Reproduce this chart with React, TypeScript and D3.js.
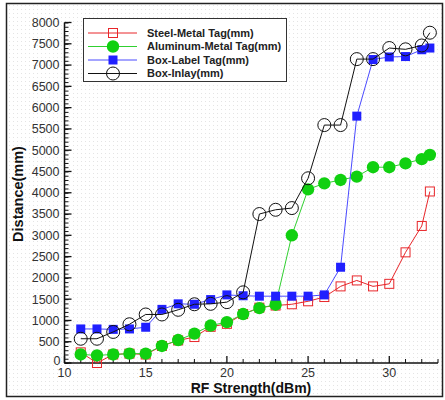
import React, { useEffect, useRef } from 'react'
import * as d3 from 'd3'

// RF strength steps (dBm)
const rfStrength = [11, 12, 13, 14, 15, 16, 17, 18, 19, 20, 21, 22, 23, 24, 25, 26, 27, 28, 29, 30, 31, 32, 32.5]

const steelMetal = [250, 0, 200, 220, 200, 400, 530, 610, 850, 920, 1150, 1300, 1350, 1380, 1450, 1550, 1800, 1940, 1800, 1860, 2600, 3220, 4030]
const aluminumMetal = [200, 180, 200, 220, 220, 400, 540, 690, 880, 960, 1150, 1290, 1370, 3000, 4080, 4220, 4300, 4380, 4600, 4600, 4690, 4790, 4890]
const boxLabel = [800, 800, 790, 800, 840, 1260, 1390, 1380, 1490, 1600, 1580, 1570, 1570, 1570, 1570, 1600, 2250, 5800, 7130, 7190, 7200, 7360, 7400]
const boxInlay = [570, 570, 730, 910, 1140, 1140, 1250, 1380, 1390, 1430, 1660, 3500, 3600, 3640, 4340, 5590, 5590, 7140, 7140, 7400, 7370, 7460, 7760]

const seriesNames = ['Steel-Metal Tag(mm)', 'Aluminum-Metal Tag(mm)', 'Box-Label Tag(mm)', 'Box-Inlay(mm)']
const yTicks = [0, 500, 1000, 1500, 2000, 2500, 3000, 3500, 4000, 4500, 5000, 5500, 6000, 6500, 7000, 7500, 8000]
const xTicks = [10, 15, 20, 25, 30]

const font = "'Liberation Sans', Arial, sans-serif"

const App = () => {
  const svgRef = useRef(null)

  useEffect(() => {
    const width = 445
    const height = 400
    const margin = { top: 22.5, right: 7, bottom: 37, left: 64.5 }
    const svg = d3.select(svgRef.current)
    svg.selectAll('*').remove()
    svg.attr('width', width).attr('height', height)

    // dotted background of the frame
    const defs = svg.append('defs')
    const pat = defs
      .append('pattern')
      .attr('id', 'dots')
      .attr('width', 4)
      .attr('height', 4)
      .attr('patternUnits', 'userSpaceOnUse')
    pat.append('rect').attr('width', 4).attr('height', 4).attr('fill', '#ffffff')
    pat.append('rect').attr('x', 1).attr('y', 1).attr('width', 1).attr('height', 1).attr('fill', '#e4e4e4')

    svg
      .append('rect')
      .attr('x', 6.5)
      .attr('y', 3.5)
      .attr('width', 436)
      .attr('height', 393)
      .attr('fill', 'url(#dots)')
      .attr('stroke', '#222')
      .attr('stroke-width', 1.5)

    const x = d3.scaleLinear().domain([10, 33]).range([margin.left, width - margin.right])
    const y = d3.scaleLinear().domain([0, 8000]).range([height - margin.bottom, margin.top])

    // y axis, ticks drawn inward
    const yAxis = svg.append('g').attr('transform', `translate(${margin.left},0)`)
    yAxis
      .call(d3.axisRight(y).tickValues(d3.range(0, 8001, 100)).tickSize(4).tickFormat(() => ''))
      .call((g) => g.select('.domain').remove())
    yAxis.selectAll('line').attr('stroke', '#111').attr('stroke-width', 1)
    yAxis
      .append('line')
      .attr('y1', y(0))
      .attr('y2', y(8000))
      .attr('stroke', '#111')
      .attr('stroke-width', 1.5)
    yAxis
      .selectAll('.major')
      .data(yTicks)
      .join('line')
      .attr('class', 'major')
      .attr('x1', 0)
      .attr('x2', 7)
      .attr('y1', (d) => y(d))
      .attr('y2', (d) => y(d))
      .attr('stroke', '#111')
      .attr('stroke-width', 1.3)
    yAxis
      .selectAll('.lbl')
      .data(yTicks)
      .join('text')
      .attr('class', 'lbl')
      .attr('x', (d) => (d === 0 ? -4 : -5))
      .attr('y', (d) => (d === 0 ? y(d) - 2 : y(d)))
      .attr('dy', '0.35em')
      .attr('text-anchor', 'end')
      .attr('font-family', font)
      .attr('font-size', 12.5)
      .attr('fill', '#333')
      .text((d) => d)

    // x axis
    const xAxis = svg.append('g').attr('transform', `translate(0,${y(0)})`)
    xAxis
      .append('line')
      .attr('x1', x(10))
      .attr('x2', x(33))
      .attr('stroke', '#111')
      .attr('stroke-width', 1.5)
    xAxis
      .selectAll('.minor')
      .data(d3.range(10, 34, 1))
      .join('line')
      .attr('class', 'minor')
      .attr('x1', (d) => x(d))
      .attr('x2', (d) => x(d))
      .attr('y1', 0)
      .attr('y2', (d) => (d % 5 === 0 ? -7 : -4))
      .attr('stroke', '#111')
      .attr('stroke-width', (d) => (d % 5 === 0 ? 1.3 : 1))
    xAxis
      .selectAll('.lbl')
      .data(xTicks)
      .join('text')
      .attr('class', 'lbl')
      .attr('x', (d) => x(d))
      .attr('y', 13.5)
      .attr('text-anchor', 'middle')
      .attr('font-family', font)
      .attr('font-size', 12.5)
      .attr('fill', '#333')
      .text((d) => d)

    // axis titles
    svg
      .append('text')
      .attr('x', 251)
      .attr('y', 392.5)
      .attr('text-anchor', 'middle')
      .attr('font-family', font)
      .attr('font-weight', 'bold')
      .attr('font-size', 14)
      .attr('fill', '#111')
      .text('RF Strength(dBm)')
    svg
      .append('text')
      .attr('transform', 'translate(23,194) rotate(-90)')
      .attr('text-anchor', 'middle')
      .attr('font-family', font)
      .attr('font-weight', 'bold')
      .attr('font-size', 14.5)
      .attr('fill', '#111')
      .text('Distance(mm)')

    const series = [
      { name: seriesNames[0], values: steelMetal, color: '#e8262a', marker: 'openSquare' },
      { name: seriesNames[1], values: aluminumMetal, color: '#10d010', marker: 'dot' },
      { name: seriesNames[2], values: boxLabel, color: '#2020ff', marker: 'square' },
      { name: seriesNames[3], values: boxInlay, color: '#111111', marker: 'openCircle' },
    ]
    const lineColor = ['#e8262a', '#30d030', '#4a4aff', '#111']

    const drawMarker = (g, kind, color, cx, cy) => {
      if (kind === 'openSquare') {
        g.append('rect').attr('x', cx - 4.5).attr('y', cy - 4.5).attr('width', 9).attr('height', 9)
          .attr('fill', 'none').attr('stroke', color).attr('stroke-width', 1)
      } else if (kind === 'dot') {
        g.append('circle').attr('cx', cx).attr('cy', cy).attr('r', 6.2).attr('fill', color)
      } else if (kind === 'square') {
        g.append('rect').attr('x', cx - 4.5).attr('y', cy - 4.5).attr('width', 9).attr('height', 9).attr('fill', color)
      } else {
        g.append('circle').attr('cx', cx).attr('cy', cy).attr('r', 6.5)
          .attr('fill', 'none').attr('stroke', color).attr('stroke-width', 1)
      }
    }

    const line = d3
      .line()
      .x((d) => x(d[0]))
      .y((d) => y(d[1]))

    const plot = svg.append('g')
    series.forEach((s, i) => {
      const pts = rfStrength.map((r, j) => [r, s.values[j]])
      const g = plot.append('g')
      g.append('path')
        .attr('d', line(pts))
        .attr('fill', 'none')
        .attr('stroke', lineColor[i])
        .attr('stroke-width', 1)
      pts.forEach((p) => drawMarker(g, s.marker, s.color, x(p[0]), y(p[1])))
    })

    // legend
    const legend = svg.append('g')
    legend
      .append('rect')
      .attr('x', 83.5)
      .attr('y', 18.5)
      .attr('width', 203)
      .attr('height', 63)
      .attr('fill', '#fff')
      .attr('stroke', '#333')
      .attr('stroke-width', 1)
    series.forEach((s, i) => {
      const ly = 33 + i * 13.5
      legend.append('line').attr('x1', 88).attr('x2', 137).attr('y1', ly).attr('y2', ly)
        .attr('stroke', lineColor[i]).attr('stroke-width', 1)
      drawMarker(legend, s.marker, s.color, 113, ly)
      legend
        .append('text')
        .attr('x', 147)
        .attr('y', ly)
        .attr('dy', '0.35em')
        .attr('font-family', font)
        .attr('font-weight', 'bold')
        .attr('font-size', 11)
        .attr('fill', '#222')
        .text(s.name)
    })
  }, [])

  return <svg ref={svgRef} style={{ position: 'absolute', left: 0, top: 0 }} />
}

export default App
